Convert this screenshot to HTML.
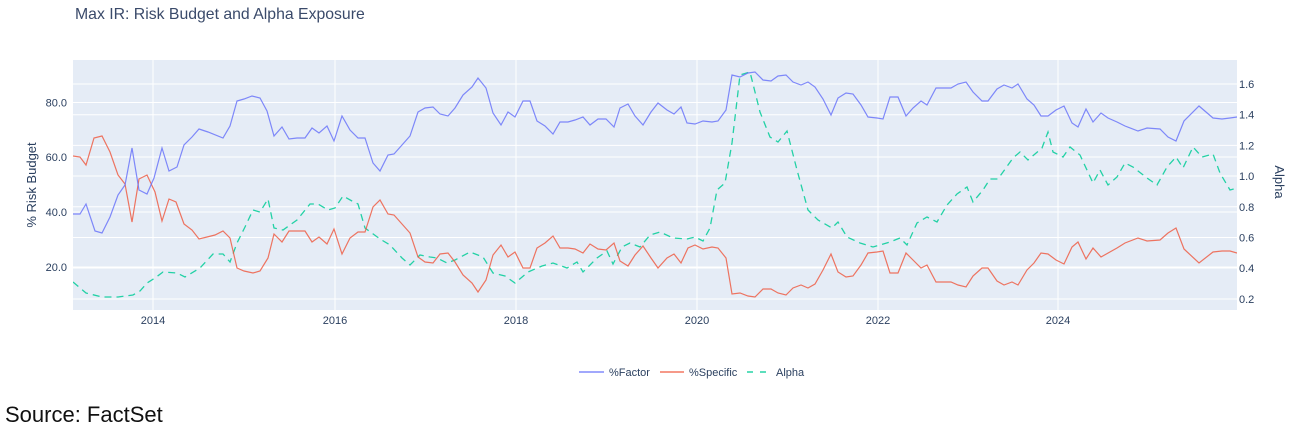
<!DOCTYPE html>
<html><head><meta charset="utf-8"><style>
html,body{margin:0;padding:0;background:#fff;}
svg{display:block;font-family:"Liberation Sans",sans-serif;}
</style></head><body>
<svg width="1289" height="430" viewBox="0 0 1289 430" xmlns="http://www.w3.org/2000/svg">
<rect x="0" y="0" width="1289" height="430" fill="#fff"/>
<text x="75" y="19" font-size="15.8" fill="#3a4a6a">Max IR: Risk Budget and Alpha Exposure</text>
<rect x="73" y="60" width="1164" height="250" fill="#e5ecf6"/>
<g stroke="#fff" stroke-width="1">
<line x1="153" y1="60" x2="153" y2="310"/><line x1="335" y1="60" x2="335" y2="310"/>
<line x1="516" y1="60" x2="516" y2="310"/><line x1="697" y1="60" x2="697" y2="310"/>
<line x1="878" y1="60" x2="878" y2="310"/><line x1="1058" y1="60" x2="1058" y2="310"/>
<line x1="73" y1="102.5" x2="1237" y2="102.5"/><line x1="73" y1="157" x2="1237" y2="157"/>
<line x1="73" y1="212" x2="1237" y2="212"/><line x1="73" y1="267" x2="1237" y2="267"/>
<line x1="73" y1="84" x2="1237" y2="84"/><line x1="73" y1="114.7" x2="1237" y2="114.7"/>
<line x1="73" y1="145.4" x2="1237" y2="145.4"/><line x1="73" y1="176" x2="1237" y2="176"/>
<line x1="73" y1="206.8" x2="1237" y2="206.8"/><line x1="73" y1="237.5" x2="1237" y2="237.5"/>
<line x1="73" y1="268" x2="1237" y2="268"/><line x1="73" y1="299" x2="1237" y2="299"/>
</g>
<g font-size="11" fill="#2a3f5f">
<text x="67" y="106.5" text-anchor="end">80.0</text><text x="67" y="161" text-anchor="end">60.0</text>
<text x="67" y="216" text-anchor="end">40.0</text><text x="67" y="271" text-anchor="end">20.0</text>
<text x="1239" y="88">1.6</text><text x="1239" y="118.7">1.4</text><text x="1239" y="149.4">1.2</text>
<text x="1239" y="180">1.0</text><text x="1239" y="210.8">0.8</text><text x="1239" y="241.5">0.6</text>
<text x="1239" y="272">0.4</text><text x="1239" y="303">0.2</text>
<text x="153" y="324" text-anchor="middle">2014</text><text x="335" y="324" text-anchor="middle">2016</text>
<text x="516" y="324" text-anchor="middle">2018</text><text x="697" y="324" text-anchor="middle">2020</text>
<text x="878" y="324" text-anchor="middle">2022</text><text x="1058" y="324" text-anchor="middle">2024</text>
</g>
<text transform="translate(36,185) rotate(-90)" font-size="13" fill="#2a3f5f" text-anchor="middle">% Risk Budget</text>
<text transform="translate(1275,182) rotate(90)" font-size="13" fill="#2a3f5f" text-anchor="middle">Alpha</text>
<svg x="73" y="60" width="1164" height="250" viewBox="73 60 1164 250" overflow="hidden">
<polyline fill="none" stroke="#00cc96" stroke-width="1.3" stroke-dasharray="7,5" stroke-opacity="0.85" points="73,282 86,293 102,297 118,297 133,295 140,291 147,283 155,278 163,272 177,273 185,277 200,268 213,254 223,254 230,262 237,243 245,227 253,210 260,212 268,199 274,228 283,230 297,220 310,204 318,204 328,210 335,208 343,196 352,201 358,204 365,228 380,239 390,245 402,258 410,265 420,255 430,257 437,258 447,263 455,260 470,252 483,257 493,273 505,276 515,283 528,272 542,266 553,263 567,268 577,262 583,272 597,258 607,251 613,264 622,247 630,243 640,247 650,235 660,232 673,238 687,239 695,237 703,241 710,228 717,190 725,183 732,143 740,75 750,72 760,112 770,137 778,142 787,131 797,170 808,210 818,220 832,228 838,222 847,237 860,243 873,247 890,242 900,238 907,245 917,223 927,217 937,222 947,205 957,194 967,187 973,202 983,190 990,179 998,179 1013,158 1020,152 1028,160 1042,148 1048,132 1053,152 1063,157 1070,147 1080,155 1093,183 1100,170 1108,185 1117,177 1125,163 1133,167 1147,178 1157,185 1167,167 1176,157 1183,168 1193,147 1202,157 1213,154 1220,173 1230,190 1237,188"/>
<polyline fill="none" stroke="#ef553b" stroke-width="1.2" stroke-opacity="0.8" points="73,156 80,157 86,165 94,138 102,136 110,152 118,175 125,184 132,222 139,179 147,175 155,192 162,221 169,199 176,202 184,224 192,230 199,239 207,237 215,235 223,231 230,238 237,268 244,271 253,273 260,271 268,258 274,234 282,242 289,231 297,231 305,231 312,242 319,237 327,244 334,229 342,254 350,238 358,232 365,232 373,207 380,200 388,214 394,215 410,233 418,257 425,262 433,263 440,254 448,253 455,262 463,275 472,283 478,292 486,280 493,255 501,245 508,257 515,252 523,268 530,268 537,248 545,243 553,236 560,248 568,248 575,249 583,253 590,244 598,249 606,250 614,243 620,261 628,266 635,255 643,246 651,258 658,268 667,258 674,254 681,263 688,248 695,245 703,249 712,247 718,248 726,258 732,294 740,293 748,296 755,297 763,289 771,289 778,293 786,295 793,288 801,285 808,288 815,284 823,270 831,254 838,272 846,277 853,276 861,265 868,253 877,252 883,251 890,273 898,273 906,253 913,260 921,268 927,265 936,282 943,282 951,282 958,285 966,287 973,276 982,268 988,268 997,281 1004,285 1012,282 1018,285 1027,270 1034,263 1041,253 1048,254 1056,260 1064,264 1072,247 1078,242 1086,259 1093,248 1101,257 1117,248 1125,243 1138,238 1147,241 1160,240 1168,233 1176,228 1184,249 1199,263 1213,252 1222,251 1230,251 1237,253"/>
<polyline fill="none" stroke="#636efa" stroke-width="1.2" stroke-opacity="0.8" points="73,214 80,214 86,204 95,231 102,233 110,217 118,195 125,185 132,148 139,190 147,194 154,178 162,148 169,171 177,167 184,145 192,137 199,129 208,132 223,138 230,126 237,101 244,99 252,96 260,98 267,111 274,136 282,127 289,139 297,138 305,138 312,128 319,133 327,126 334,141 342,116 350,130 358,138 365,138 373,163 380,171 388,155 394,154 402,145 410,136 418,112 425,108 433,107 440,114 448,116 455,108 463,95 472,87 478,78 486,88 493,113 501,125 508,112 515,117 523,101 530,101 537,121 545,126 553,134 560,122 568,122 575,120 583,117 590,125 598,119 606,119 614,127 620,108 628,104 635,116 643,125 651,112 658,103 667,110 674,114 681,107 687,123 695,124 703,121 712,122 718,121 726,110 732,75 740,77 748,73 755,72 763,80 771,81 778,76 786,75 793,82 801,85 808,82 815,87 823,99 831,115 838,98 846,93 853,94 861,105 868,117 877,118 883,119 890,97 898,97 906,116 913,108 921,101 927,105 936,88 943,88 951,88 958,84 966,82 973,92 982,101 988,101 997,89 1004,85 1012,88 1018,84 1027,99 1034,105 1041,116 1048,116 1056,110 1064,106 1072,123 1078,127 1086,109 1093,122 1101,113 1108,118 1117,122 1125,126 1138,131 1147,128 1160,129 1168,137 1176,141 1184,121 1199,106 1213,118 1222,119 1230,118 1237,117"/>
</svg>
<g font-size="11" fill="#2a3f5f">
<line x1="579" y1="372" x2="604" y2="372" stroke="#636efa" stroke-width="1.5" stroke-opacity="0.8"/>
<text x="609" y="376">%Factor</text>
<line x1="660" y1="372" x2="684" y2="372" stroke="#ef553b" stroke-width="1.5" stroke-opacity="0.8"/>
<text x="689" y="376">%Specific</text>
<line x1="747" y1="372" x2="772" y2="372" stroke="#00cc96" stroke-width="1.5" stroke-dasharray="6,7" stroke-opacity="0.85"/>
<text x="776" y="376">Alpha</text>
</g>
<text x="5" y="422" font-size="22" fill="#111">Source: FactSet</text>
</svg>
</body></html>
